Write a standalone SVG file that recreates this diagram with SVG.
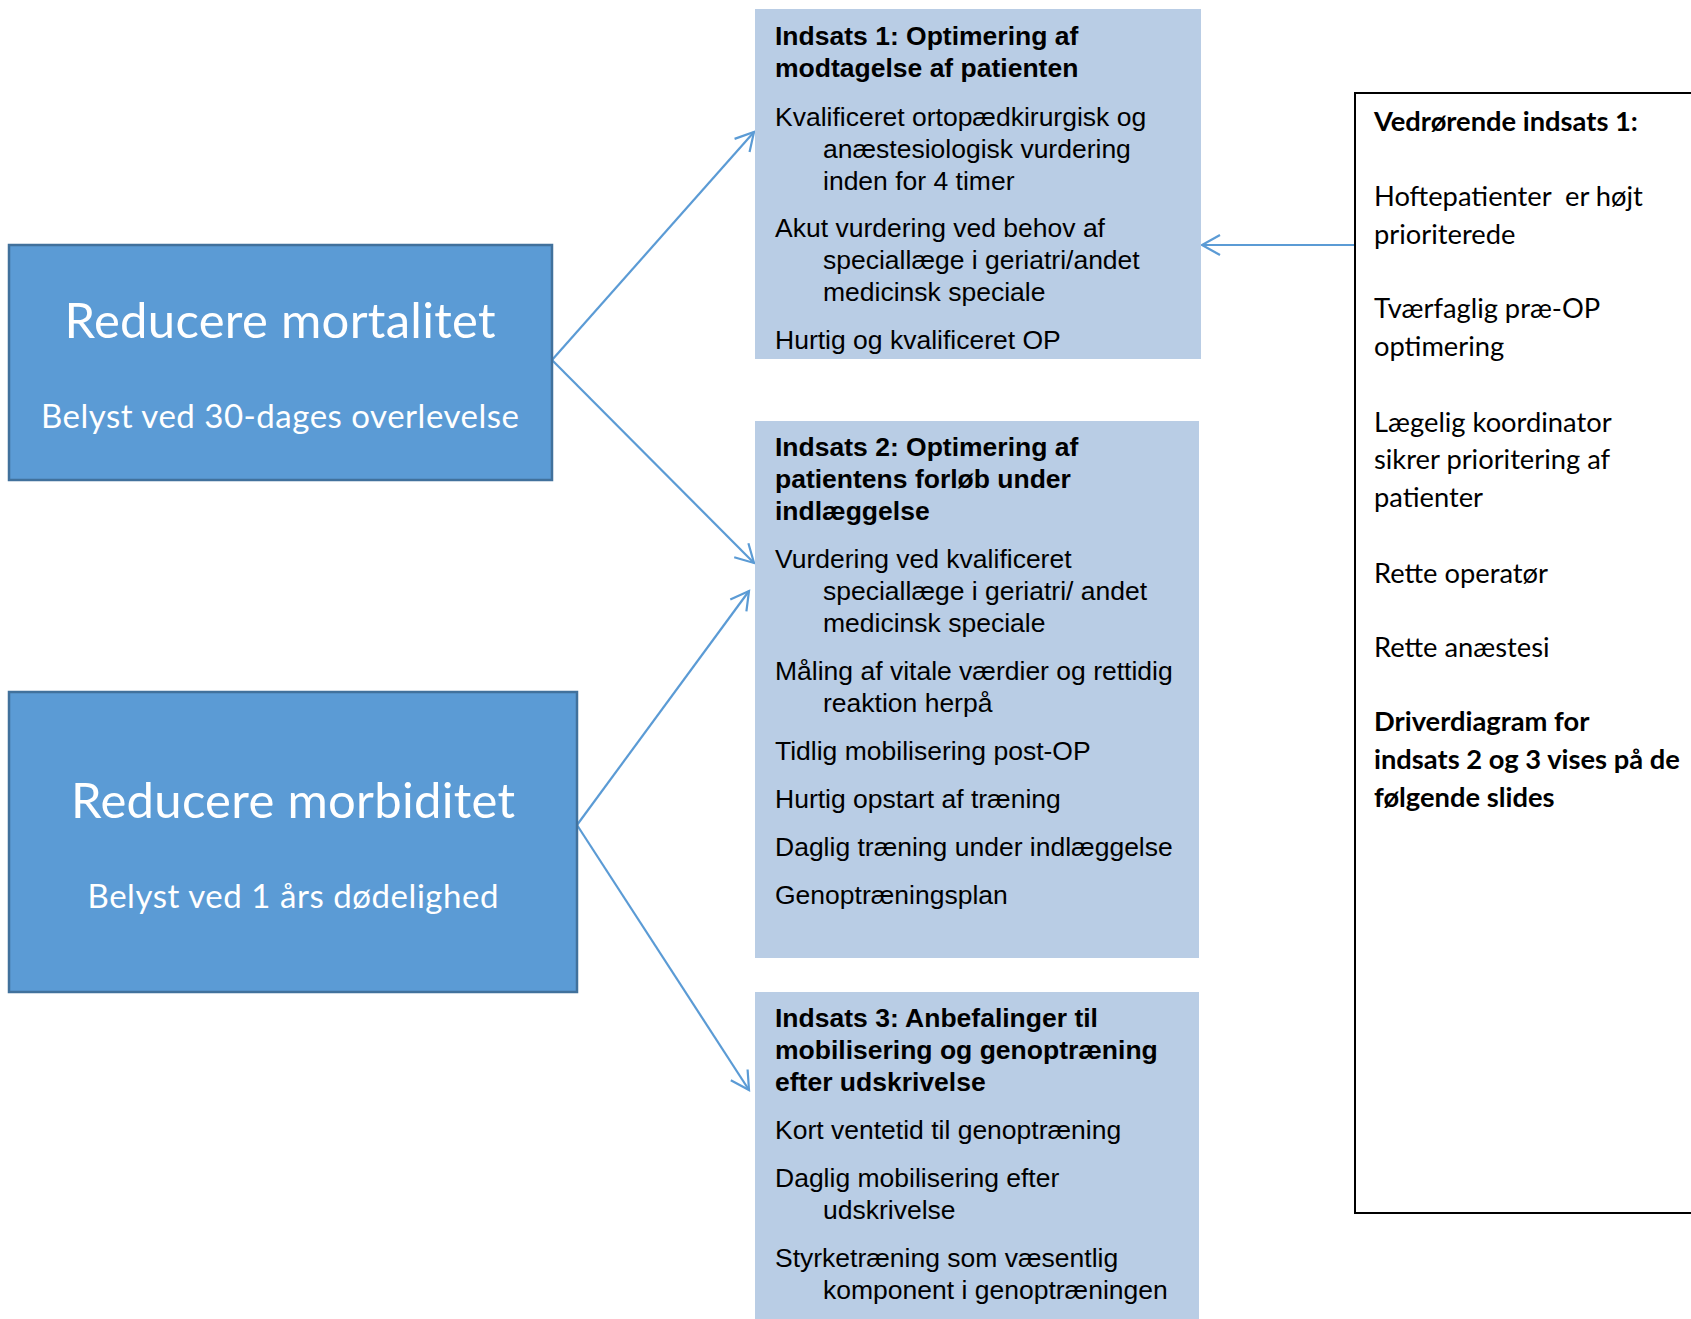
<svg xmlns="http://www.w3.org/2000/svg" width="1691" height="1319" viewBox="0 0 1691 1319">
<defs>
<style>
.goal{fill:#5B9BD5;stroke:#41719C;stroke-width:2.5}
.goalT{font-family:Lato,"Open Sans",sans-serif;fill:#fff;text-anchor:middle}
.ind{fill:#B9CDE5}
.it{font-family:"Liberation Sans",Arial,sans-serif;font-size:26.5px;fill:#000}
.ib{font-family:"Liberation Sans",Arial,sans-serif;font-size:26.5px;font-weight:bold;fill:#000}
.note{fill:#fff;stroke:#000;stroke-width:2}
.nt{font-family:Lato,"Open Sans",sans-serif;font-size:27.3px;fill:#000}
.nb{font-family:Lato,"Open Sans",sans-serif;font-size:27.3px;font-weight:bold;fill:#000}
.conn{stroke:#5B9BD5;stroke-width:2.2;fill:none}
</style>
<marker id="arr" viewBox="-22 -13 26 26" markerWidth="26" markerHeight="26" refX="0" refY="0" orient="auto" markerUnits="userSpaceOnUse">
<path d="M-18,-10 L0,0 L-18,10" fill="none" stroke="#5B9BD5" stroke-width="2.2"/>
</marker>
</defs>
<rect width="1691" height="1319" fill="#fff"/>

<g id="connectors">
<line class="conn" x1="552" y1="360" x2="754" y2="132" marker-end="url(#arr)"/>
<line class="conn" x1="552" y1="360" x2="754" y2="563" marker-end="url(#arr)"/>
<line class="conn" x1="577" y1="825" x2="749" y2="591" marker-end="url(#arr)"/>
<line class="conn" x1="577" y1="825" x2="749" y2="1090" marker-end="url(#arr)"/>
<line class="conn" x1="1354" y1="245" x2="1202" y2="245" marker-end="url(#arr)"/>
</g>

<g id="goal-mortalitet">
<rect class="goal" x="9" y="245" width="543" height="235"/>
<text class="goalT" x="280" y="338" font-size="49" textLength="431">Reducere mortalitet</text>
<text class="goalT" x="280" y="428" font-size="33" textLength="478">Belyst ved 30-dages overlevelse</text>
</g>

<g id="goal-morbiditet">
<rect class="goal" x="9" y="692" width="568" height="300"/>
<text class="goalT" x="293" y="818" font-size="49" textLength="444">Reducere morbiditet</text>
<text class="goalT" x="293" y="908" font-size="33" textLength="411">Belyst ved 1 års dødelighed</text>
</g>

<g id="indsats1">
<rect class="ind" x="755" y="9" width="446" height="350"/>
<text class="ib" x="775" y="45">Indsats 1: Optimering af</text>
<text class="ib" x="775" y="77">modtagelse af patienten</text>
<text class="it" x="775" y="126">Kvalificeret ortopædkirurgisk og</text>
<text class="it" x="823" y="158">anæstesiologisk vurdering</text>
<text class="it" x="823" y="190">inden for 4 timer</text>
<text class="it" x="775" y="237">Akut vurdering ved behov af</text>
<text class="it" x="823" y="269">speciallæge i geriatri/andet</text>
<text class="it" x="823" y="301">medicinsk speciale</text>
<text class="it" x="775" y="349">Hurtig og kvalificeret OP</text>
</g>

<g id="indsats2">
<rect class="ind" x="755" y="421" width="444" height="537"/>
<text class="ib" x="775" y="456">Indsats 2: Optimering af</text>
<text class="ib" x="775" y="488">patientens forløb under</text>
<text class="ib" x="775" y="520">indlæggelse</text>
<text class="it" x="775" y="568">Vurdering ved kvalificeret</text>
<text class="it" x="823" y="600">speciallæge i geriatri/ andet</text>
<text class="it" x="823" y="632">medicinsk speciale</text>
<text class="it" x="775" y="680">Måling af vitale værdier og rettidig</text>
<text class="it" x="823" y="712">reaktion herpå</text>
<text class="it" x="775" y="760">Tidlig mobilisering post-OP</text>
<text class="it" x="775" y="808">Hurtig opstart af træning</text>
<text class="it" x="775" y="856">Daglig træning under indlæggelse</text>
<text class="it" x="775" y="904">Genoptræningsplan</text>
</g>

<g id="indsats3">
<rect class="ind" x="755" y="992" width="444" height="327"/>
<text class="ib" x="775" y="1027">Indsats 3: Anbefalinger til</text>
<text class="ib" x="775" y="1059">mobilisering og genoptræning</text>
<text class="ib" x="775" y="1091">efter udskrivelse</text>
<text class="it" x="775" y="1139">Kort ventetid til genoptræning</text>
<text class="it" x="775" y="1187">Daglig mobilisering efter</text>
<text class="it" x="823" y="1219">udskrivelse</text>
<text class="it" x="775" y="1267">Styrketræning som væsentlig</text>
<text class="it" x="823" y="1299">komponent i genoptræningen</text>
</g>

<g id="note">
<rect class="note" x="1355" y="93" width="400" height="1120"/>
<text class="nb" x="1374" y="131">Vedrørende indsats 1:</text>
<text class="nt" x="1374" y="206" xml:space="preserve">Hoftepatienter  er højt</text>
<text class="nt" x="1374" y="244">prioriterede</text>
<text class="nt" x="1374" y="318">Tværfaglig præ-OP</text>
<text class="nt" x="1374" y="356">optimering</text>
<text class="nt" x="1374" y="432">Lægelig koordinator</text>
<text class="nt" x="1374" y="469">sikrer prioritering af</text>
<text class="nt" x="1374" y="507">patienter</text>
<text class="nt" x="1374" y="583">Rette operatør</text>
<text class="nt" x="1374" y="657">Rette anæstesi</text>
<text class="nb" x="1374" y="731">Driverdiagram for</text>
<text class="nb" x="1374" y="769">indsats 2 og 3 vises på de</text>
<text class="nb" x="1374" y="807">følgende slides</text>
</g>
</svg>
